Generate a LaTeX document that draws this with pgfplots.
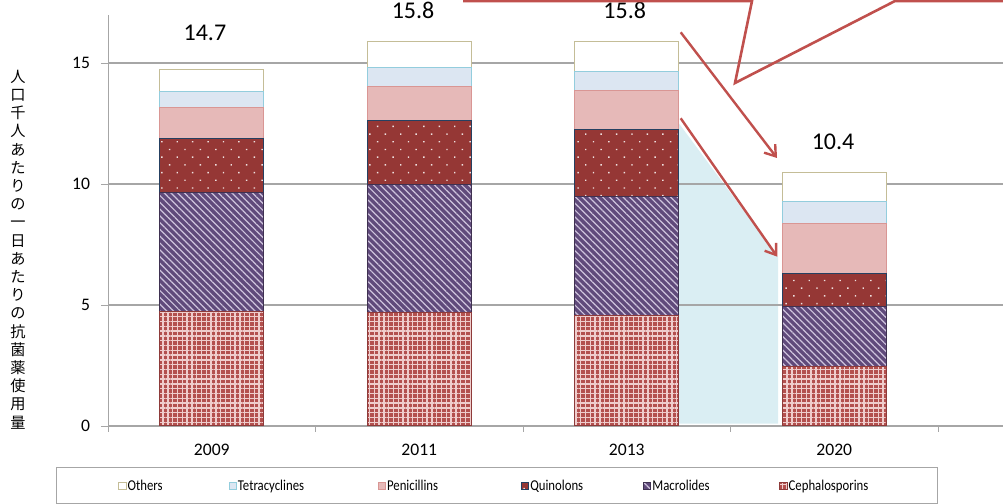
\documentclass[border=0pt]{standalone}
\usepackage{pgfplots}
\pgfplotsset{compat=1.18}
\usepackage{fontspec}
\setmainfont{Carlito}
\newfontfamily\cjk{Noto Sans CJK JP}
\newfontfamily\legfont[FakeStretch=0.85]{Carlito}
\usetikzlibrary{patterns.meta,arrows.meta}
\definecolor{othB}{HTML}{C4BD97}
\definecolor{tetF}{HTML}{DCE6F2}
\definecolor{tetB}{HTML}{93CDDD}
\definecolor{penF}{HTML}{E6B9B8}
\definecolor{penB}{HTML}{D99694}
\definecolor{quiF}{HTML}{953735}
\definecolor{quiB}{HTML}{254061}
\definecolor{macF}{HTML}{604A7B}
\definecolor{macS}{HTML}{CFC4DD}
\definecolor{macB}{HTML}{3F3151}
\definecolor{cepF}{HTML}{B3504E}
\definecolor{cepP}{HTML}{EFCDCC}
\definecolor{cepB}{HTML}{8E3B3A}
\definecolor{annoRed}{HTML}{C0504D}
\definecolor{polyBlue}{HTML}{DAEEF3}
\definecolor{gridGray}{HTML}{A6A6A6}
\begin{document}
\begin{tikzpicture}
\useasboundingbox (0,0) rectangle (501.5pt,252pt);
\clip (0,0) rectangle (501.5pt,252pt);
\begin{scope}[x=0.5pt, y=-0.5pt, yshift=252pt]
  \fill[polyBlue] (679,423.6) -- (679,123.5) -- (778,257) -- (778,423.6) -- cycle;
\end{scope}
\begin{axis}[
  at={(54pt,39pt)}, anchor=south west,
  scale only axis,
  width=447.5pt, height=205.7pt,
  clip=false,
  ybar stacked,
  bar width=0.5,
  xmin=-0.5, xmax=3.813,
  ymin=0, ymax=17,
  xtick={0,1,2,3},
  xticklabels={2009,2011,2013,2020},
  minor xtick={-0.5,0.5,1.5,2.5,3.5},
  ytick={0,5,10,15},
  axis x line*=bottom,
  axis y line*=left,
  axis line style={draw=gridGray},
  ymajorgrids,
  grid style={draw=gridGray, line width=0.6pt},
  tick align=outside,
  major tick length=3.5pt,
  minor tick length=3pt,
  major x tick style={draw=none},
  minor x tick style={draw=gridGray},
  major y tick style={draw=gridGray},
  tick label style={font=\fontsize{8.8}{10}\selectfont},
  /pgf/number format/assume math mode=true,
  xticklabel style={yshift=-2pt},
  yticklabel style={xshift=-2pt},
  every axis plot post/.append style={
    legend image code/.code={\draw[##1] (0pt,-1.8pt) rectangle (3.6pt,1.8pt);}},
  reverse legend,
  legend columns=6,
  legend style={
    at={(-0.0581,-0.0997)}, anchor=north west,
    draw=gridGray, line width=0.5pt,
    font=\legfont\fontsize{7.5}{9}\selectfont,
    inner xsep=31pt, inner ysep=6pt,
    column sep=0pt,
    nodes={inner sep=0.5pt, text depth=0pt},
  },
]
\addplot[fill=cepF, draw=cepB, line width=0.5pt,
  postaction={pattern={Hatch[angle=0,distance=2.4pt,line width=0.7pt]}, pattern color=cepP}]
  coordinates {(0,4.72) (1,4.68) (2,4.56) (3,2.45)};
\addlegendentry{\makebox[43pt][l]{Cephalosporins}}
\addplot[fill=macF, draw=macB, line width=0.5pt,
  postaction={pattern={Lines[angle=-45,distance=2.4pt,line width=0.6pt]}, pattern color=macS}]
  coordinates {(0,4.94) (1,5.31) (2,4.94) (3,2.48)};
\addlegendentry{\makebox[63pt][l]{Macrolides}}
\addplot[fill=quiF, draw=quiB, line width=0.5pt,
  postaction={pattern={Dots[angle=45,distance=5.45pt,radius=0.5pt]}, pattern color=white!85!quiF}]
  coordinates {(0,2.20) (1,2.64) (2,2.77) (3,1.38)};
\addlegendentry{\makebox[56pt][l]{Quinolons}}
\addplot[fill=penF, draw=penB, line width=0.5pt]
  coordinates {(0,1.31) (1,1.39) (2,1.59) (3,2.06)};
\addlegendentry{\makebox[66.5pt][l]{Penicillins}}
\addplot[fill=tetF, draw=tetB, line width=0.5pt]
  coordinates {(0,0.67) (1,0.79) (2,0.78) (3,0.89)};
\addlegendentry{\makebox[69.5pt][l]{Tetracyclines}}
\addplot[fill=white, draw=othB, line width=0.5pt]
  coordinates {(0,0.90) (1,1.06) (2,1.23) (3,1.21)};
\addlegendentry{\makebox[50pt][l]{Others}}
\node[font=\fontsize{12}{14}\selectfont] at (axis cs:-0.033,16.24) {14.7};
\node[font=\fontsize{12}{14}\selectfont] at (axis cs:0.97,17.19) {15.8};
\node[font=\fontsize{12}{14}\selectfont] at (axis cs:1.99,17.19) {15.8};
\node[font=\fontsize{12}{14}\selectfont] at (axis cs:2.994,11.74) {10.4};
\end{axis}
\node[font=\cjk\fontsize{7.6}{9.1}\selectfont, align=center, inner sep=0pt] at (9pt,127.25pt)
  {人\\口\\千\\人\\あ\\た\\り\\の\\一\\日\\あ\\た\\り\\の\\抗\\菌\\薬\\使\\用\\量};
\begin{scope}[x=0.5pt, y=-0.5pt, yshift=252pt]
  \draw[annoRed, line width=1.3pt, line join=miter]
    (463,1) -- (752,1) -- (735,83) -- (895,1) -- (1010,1);
  \draw[annoRed, line width=1.2pt, -{Straight Barb[length=5pt,width=7pt]}]
    (680.7,32.3) -- (777,158);
  \draw[annoRed, line width=1.2pt, -{Straight Barb[length=5pt,width=7pt]}]
    (680.7,118.3) -- (777.3,256.7);
\end{scope}
\end{tikzpicture}
\end{document}
